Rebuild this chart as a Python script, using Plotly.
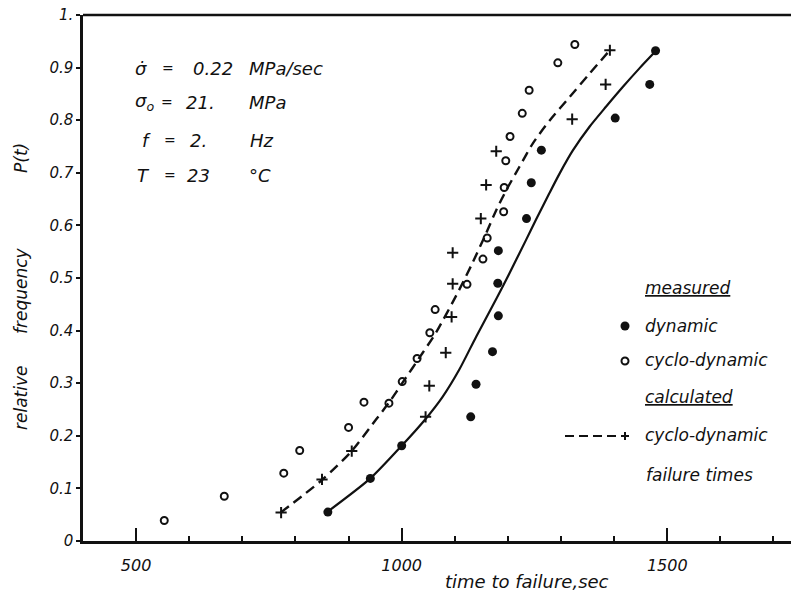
import plotly.graph_objects as go

# ---------------- data ----------------
# measured, dynamic (filled circles)
dyn_t = [861, 941, 1000, 1130, 1140, 1171, 1182, 1181, 1182, 1235, 1244, 1263, 1402, 1467, 1478]
dyn_p = [0.055, 0.119, 0.181, 0.236, 0.298, 0.360, 0.428, 0.490, 0.552, 0.613, 0.681, 0.743, 0.804, 0.868, 0.932]

# measured, cyclo-dynamic (open circles)
cyc_t = [553, 666, 778, 808, 900, 929, 976, 1001, 1029, 1053, 1063, 1123, 1153, 1161,
         1192, 1193, 1196, 1204, 1227, 1240, 1294, 1326]
cyc_p = [0.039, 0.085, 0.129, 0.172, 0.216, 0.264, 0.262, 0.303, 0.347, 0.396, 0.440, 0.488,
         0.536, 0.576, 0.626, 0.672, 0.723, 0.769, 0.813, 0.857, 0.909, 0.944]

# calculated cyclo-dynamic failure times (plus signs)
calc_t = [773, 850, 906, 1045, 1052, 1083, 1094, 1096, 1096, 1149, 1159, 1178, 1321, 1384, 1392]
calc_p = [0.054, 0.117, 0.171, 0.236, 0.295, 0.358, 0.426, 0.489, 0.548, 0.613, 0.677, 0.741,
          0.802, 0.868, 0.933]

# solid curve (dynamic)
fit_dyn_t = [861, 941, 1000, 1045, 1077, 1108, 1140, 1178, 1197, 1234, 1253, 1278, 1297,
             1322, 1354, 1385, 1417, 1448, 1477]
fit_dyn_p = [0.056, 0.119, 0.181, 0.232, 0.274, 0.325, 0.388, 0.460, 0.497, 0.572, 0.611,
             0.661, 0.698, 0.742, 0.788, 0.826, 0.864, 0.899, 0.930]

# dashed curve (cyclo-dynamic)
fit_cyc_t = [772, 850, 905, 951, 976, 1001, 1039, 1064, 1108, 1133, 1159, 1178, 1197, 1222,
             1247, 1279, 1317, 1354, 1392]
fit_cyc_p = [0.054, 0.116, 0.170, 0.230, 0.263, 0.300, 0.357, 0.395, 0.477, 0.528, 0.585, 0.629,
             0.667, 0.712, 0.756, 0.800, 0.845, 0.889, 0.933]

x_tickvals = [500, 1000, 1500]
x_ticktext = ["500", "1000", "1500"]
y_tickvals = [0, 0.1, 0.2, 0.3, 0.4, 0.5, 0.6, 0.7, 0.8, 0.9, 1.0]
y_ticktext = ["0", "0.1", "0.2", "0.3", "0.4", "0.5", "0.6", "0.7", "0.8", "0.9", "1."]

params = [
    ("σ̇", "=", "0.22", "MPa/sec"),
    ("σ<sub>o</sub>", "=", "21.", "MPa"),
    ("f", "=", "2.", "Hz"),
    ("T", "=", "23", "°C"),
]

# ---------------- layout constants ----------------
W, H = 791, 594
L, R, T, B = 83, 0, 15, 53
PW, PH = W - L - R, H - T - B
INK = "#111111"
FONT = "DejaVu Sans"


def fx(px):
    return (px - L) / PW


def fy(py):
    return (H - B - py) / PH


fig = go.Figure()

fig.add_trace(go.Scatter(x=fit_dyn_t, y=fit_dyn_p, mode="lines",
                         line=dict(color=INK, width=2.2, shape="spline", smoothing=0.7),
                         showlegend=False, hoverinfo="skip"))
fig.add_trace(go.Scatter(x=fit_cyc_t, y=fit_cyc_p, mode="lines",
                         line=dict(color=INK, width=2.4, dash="10px,6px", shape="spline", smoothing=0.7),
                         showlegend=False, hoverinfo="skip"))
fig.add_trace(go.Scatter(x=dyn_t, y=dyn_p, mode="markers",
                         marker=dict(symbol="circle", size=9, color=INK),
                         showlegend=False))
fig.add_trace(go.Scatter(x=cyc_t, y=cyc_p, mode="markers",
                         marker=dict(symbol="circle-open", size=7, color=INK, line=dict(width=2, color=INK)),
                         showlegend=False))
fig.add_trace(go.Scatter(x=calc_t, y=calc_p, mode="markers",
                         marker=dict(symbol="cross-thin", size=8, color=INK, line=dict(width=2, color=INK)),
                         showlegend=False))

annotations = []

# parameter block: symbol, '=' (centred), value, unit
rows_y = [68, 102, 140, 175]
cols_x = [(133, 168, 191, 247), (133, 167, 184, 247), (140, 170, 188, 248), (135, 170, 185, 247)]
for (parts, yy, xs) in zip(params, rows_y, cols_x):
    for k, (txt, xx) in enumerate(zip(parts, xs)):
        annotations.append(dict(xref="paper", yref="paper", x=fx(xx), y=fy(yy), text=txt,
                                xanchor="center" if k == 1 else "left", yanchor="middle",
                                showarrow=False,
                                font=dict(family=FONT, size=14 if k == 1 else 18, color=INK,
                                          style="italic")))

# legend block
leg = [
    ("<u>measured</u>", 643, 288),
    ("dynamic", 643, 326),
    ("cyclo-dynamic", 643, 360),
    ("<u>calculated</u>", 643, 397),
    ("cyclo-dynamic", 643, 435),
    ("failure times", 644, 475),
]
for txt, xx, yy in leg:
    annotations.append(dict(xref="paper", yref="paper", x=fx(xx), y=fy(yy), text=txt,
                            xanchor="left", yanchor="middle", showarrow=False,
                            font=dict(family=FONT, size=17, color=INK, style="italic")))

# y-axis title pieces
for txt, yy in [("relative", 398), ("frequency", 291), ("P(t)", 158)]:
    annotations.append(dict(xref="paper", yref="paper", x=fx(21), y=fy(yy), text=txt,
                            textangle=-90, xanchor="center", yanchor="middle", showarrow=False,
                            font=dict(family=FONT, size=17, color=INK, style="italic")))

# x-axis title
annotations.append(dict(xref="paper", yref="paper", x=fx(527), y=fy(581), text="time to failure,sec",
                        xanchor="center", yanchor="middle", showarrow=False,
                        font=dict(family=FONT, size=18, color=INK, style="italic")))

shapes = [
    # top frame line
    dict(type="line", xref="paper", yref="paper", x0=0, x1=1, y0=1, y1=1,
         line=dict(color=INK, width=2.5)),
    # legend: filled dot
    dict(type="circle", xref="paper", yref="paper", xsizemode="pixel", ysizemode="pixel",
         xanchor=fx(625), yanchor=fy(326), x0=-4.5, x1=4.5, y0=-4.5, y1=4.5,
         fillcolor=INK, line=dict(color=INK, width=0)),
    # legend: open circle
    dict(type="circle", xref="paper", yref="paper", xsizemode="pixel", ysizemode="pixel",
         xanchor=fx(625), yanchor=fy(361), x0=-3.5, x1=3.5, y0=-3.5, y1=3.5,
         line=dict(color=INK, width=2)),
    # legend: dashed line
    dict(type="line", xref="paper", yref="paper", x0=fx(565), x1=fx(617), y0=fy(436), y1=fy(436),
         line=dict(color=INK, width=2, dash="9px,5px")),
    # legend: plus
    dict(type="line", xref="paper", yref="paper", xsizemode="pixel", ysizemode="pixel",
         xanchor=fx(625), yanchor=fy(436), x0=-4, x1=4, y0=0, y1=0, line=dict(color=INK, width=2)),
    dict(type="line", xref="paper", yref="paper", xsizemode="pixel", ysizemode="pixel",
         xanchor=fx(625), yanchor=fy(436), x0=0, x1=0, y0=-4, y1=4, line=dict(color=INK, width=2)),
]

fig.update_layout(
    width=W, height=H,
    margin=dict(l=L, r=R, t=T, b=B),
    paper_bgcolor="white", plot_bgcolor="white",
    annotations=annotations, shapes=shapes,
    showlegend=False,
    xaxis=dict(range=[400, 1733], showgrid=False, zeroline=False,
               showline=True, linecolor=INK, linewidth=2.5,
               tickmode="array", tickvals=x_tickvals, ticktext=x_ticktext,
               ticks="inside", ticklen=13, tickwidth=2, tickcolor=INK,
               ticklabelstandoff=8,
               minor=dict(ticks="inside", dtick=100, tick0=0, ticklen=5, tickwidth=2, tickcolor=INK),
               tickfont=dict(family=FONT, size=16, color=INK, style="italic")),
    yaxis=dict(range=[0, 1], showgrid=False, zeroline=False,
               showline=True, linecolor=INK, linewidth=2.5,
               tickmode="array", tickvals=y_tickvals, ticktext=y_ticktext,
               ticks="outside", ticklen=4, tickwidth=2, tickcolor=INK,
               tickfont=dict(family=FONT, size=15, color=INK, style="italic")),
)

fig.write_html("out.html", config={"displayModeBar": False},
               post_script="document.body.style.margin='0px';document.body.style.overflow='hidden';")
